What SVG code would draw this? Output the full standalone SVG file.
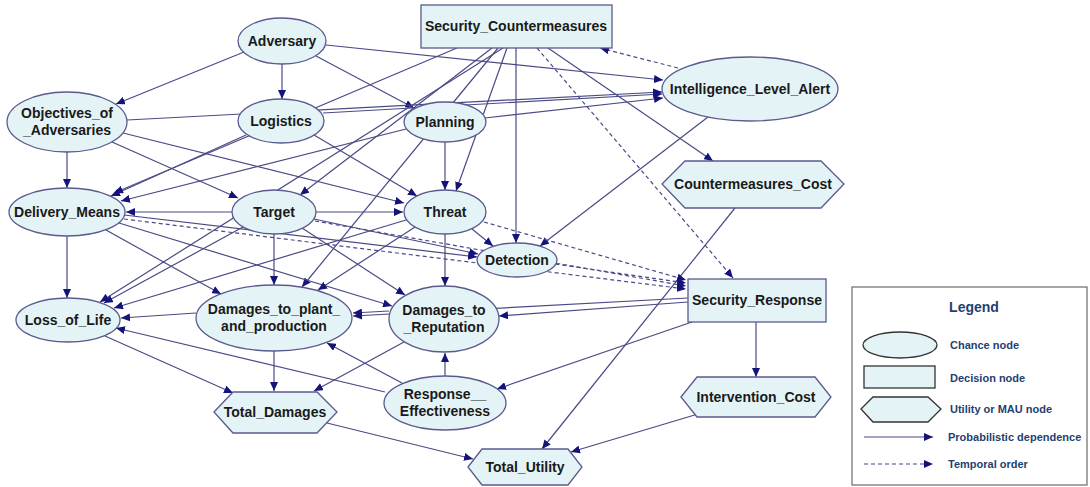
<svg xmlns="http://www.w3.org/2000/svg" width="1090" height="487" viewBox="0 0 1090 487">
<defs>
<marker id="ah" markerWidth="9" markerHeight="8" refX="9" refY="4" orient="auto" markerUnits="userSpaceOnUse"><path d="M0,0 L9,4 L0,8 Z" fill="#13137a"/></marker>
<style>
.e{stroke:#4a4a86;stroke-width:1.2;fill:none;marker-end:url(#ah)}
.d{stroke:#4a4a86;stroke-width:1.2;fill:none;stroke-dasharray:4,3;marker-end:url(#ah)}
.n{fill:#e4f4f6;stroke:#5a5a8e;stroke-width:1.3}
.t{font-family:"Liberation Sans",Arial,sans-serif;font-weight:bold;font-size:14px;fill:#1a1a1a;text-anchor:middle;dominant-baseline:central}
.l{font-family:"Liberation Sans",Arial,sans-serif;font-weight:bold;font-size:11px;fill:#1f3f72;dominant-baseline:central}
.lt{font-family:"Liberation Sans",Arial,sans-serif;font-weight:bold;font-size:14px;fill:#1f3f72;text-anchor:middle;dominant-baseline:central}
</style>
</defs>
<rect width="1090" height="487" fill="#fff"/>
<g id="connectors">
<line class="e" x1="244" y1="52" x2="116" y2="104"/>
<line class="e" x1="282" y1="64" x2="282" y2="99"/>
<line class="e" x1="316" y1="56" x2="414" y2="108"/>
<line class="e" x1="326" y1="45" x2="663" y2="80"/>
<line class="e" x1="127" y1="120" x2="662" y2="92"/>
<line class="e" x1="323" y1="113" x2="662" y2="94"/>
<line class="e" x1="485" y1="118" x2="663" y2="98"/>
<line class="e" x1="67" y1="152" x2="67" y2="188"/>
<line class="e" x1="112" y1="142" x2="238" y2="198"/>
<line class="e" x1="123" y1="133" x2="404" y2="203"/>
<line class="e" x1="246" y1="135" x2="111" y2="196"/>
<line class="e" x1="457" y1="48" x2="114" y2="193"/>
<line class="e" x1="406" y1="129" x2="121" y2="201"/>
<line class="e" x1="314" y1="135" x2="417" y2="196"/>
<line class="e" x1="445" y1="142" x2="445" y2="190"/>
<line class="e" x1="507" y1="48" x2="456" y2="191"/>
<line class="e" x1="492" y1="48" x2="300" y2="195"/>
<line class="e" x1="516" y1="48" x2="516" y2="243"/>
<line class="e" x1="548" y1="48" x2="713" y2="161"/>
<line class="e" x1="498" y1="48" x2="302" y2="287"/>
<line class="e" x1="503" y1="48" x2="100" y2="302"/>
<line class="e" x1="232" y1="212" x2="126" y2="212"/>
<line class="e" x1="316" y1="212" x2="403" y2="212"/>
<line class="e" x1="274" y1="234" x2="274" y2="285"/>
<line class="e" x1="314" y1="219" x2="478" y2="254"/>
<line class="e" x1="302" y1="228" x2="405" y2="295"/>
<line class="e" x1="243" y1="227" x2="104" y2="303"/>
<line class="e" x1="67" y1="236" x2="67" y2="298"/>
<line class="e" x1="106" y1="230" x2="221" y2="294"/>
<line class="e" x1="119" y1="223" x2="392" y2="306"/>
<line class="e" x1="124" y1="215" x2="477" y2="257"/>
<line class="e" x1="472" y1="229" x2="493" y2="246"/>
<line class="e" x1="445" y1="234" x2="445" y2="286"/>
<line class="e" x1="415" y1="227" x2="318" y2="290"/>
<line class="e" x1="406" y1="220" x2="114" y2="308"/>
<line class="e" x1="708" y1="117" x2="540" y2="246"/>
<line class="e" x1="735" y1="208" x2="542" y2="449"/>
<line class="e" x1="698" y1="414" x2="571" y2="452"/>
<line class="e" x1="327" y1="423" x2="473" y2="459"/>
<line class="e" x1="756" y1="322" x2="756" y2="377"/>
<line class="e" x1="692" y1="322" x2="497" y2="389"/>
<line class="e" x1="688" y1="302" x2="499" y2="316"/>
<line class="e" x1="688" y1="298" x2="353" y2="316"/>
<line class="e" x1="389" y1="311" x2="353" y2="313"/>
<line class="e" x1="196" y1="313" x2="121" y2="318"/>
<line class="e" x1="274" y1="351" x2="274" y2="391"/>
<line class="e" x1="105" y1="336" x2="233" y2="393"/>
<line class="e" x1="404" y1="342" x2="314" y2="391"/>
<line class="e" x1="445" y1="376" x2="445" y2="353"/>
<line class="e" x1="402" y1="383" x2="327" y2="343"/>
<line class="e" x1="385" y1="392" x2="116" y2="328"/>
<line class="d" x1="678" y1="68" x2="600" y2="48"/>
<line class="d" x1="537" y1="48" x2="733" y2="278"/>
<line class="d" x1="484" y1="222" x2="686" y2="280"/>
<line class="d" x1="555" y1="264" x2="686" y2="283"/>
<line class="d" x1="315" y1="221" x2="686" y2="286"/>
<line class="d" x1="124" y1="219" x2="686" y2="289"/>
</g>
<g id="Adversary"><ellipse class="n" cx="282" cy="41" rx="44" ry="23"/><text class="t" x="282" y="41">Adversary</text></g>
<g id="Objectives_of_Adversaries"><ellipse class="n" cx="67" cy="122" rx="60" ry="30"/><text class="t" x="67" y="113">Objectives_of</text><text class="t" x="67" y="130">_Adversaries</text></g>
<g id="Logistics"><ellipse class="n" cx="281" cy="121" rx="43" ry="22"/><text class="t" x="281" y="121">Logistics</text></g>
<g id="Planning"><ellipse class="n" cx="445" cy="122" rx="41" ry="20"/><text class="t" x="445" y="122">Planning</text></g>
<g id="Security_Countermeasures"><rect class="n" x="421" y="5" width="191" height="43"/><text class="t" x="516" y="26">Security_Countermeasures</text></g>
<g id="Intelligence_Level_Alert"><ellipse class="n" cx="750" cy="89" rx="88" ry="32"/><text class="t" x="750" y="89">Intelligence_Level_Alert</text></g>
<g id="Delivery_Means"><ellipse class="n" cx="67" cy="212" rx="58" ry="24"/><text class="t" x="67" y="212">Delivery_Means</text></g>
<g id="Target"><ellipse class="n" cx="274" cy="212" rx="42" ry="22"/><text class="t" x="274" y="212">Target</text></g>
<g id="Threat"><ellipse class="n" cx="445" cy="212" rx="41" ry="22"/><text class="t" x="445" y="212">Threat</text></g>
<g id="Countermeasures_Cost"><polygon class="n" points="662,184 685,161 821,161 844,184 821,208 685,208"/><text class="t" x="753" y="184">Countermeasures_Cost</text></g>
<g id="Detection"><ellipse class="n" cx="517" cy="260" rx="40" ry="17"/><text class="t" x="517" y="260">Detection</text></g>
<g id="Security_Response"><rect class="n" x="688" y="279" width="138" height="43"/><text class="t" x="757" y="300">Security_Response</text></g>
<g id="Loss_of_Life"><ellipse class="n" cx="68" cy="320" rx="52" ry="22"/><text class="t" x="68" y="320">Loss_of_Life</text></g>
<g id="Damages_to_plant_and_production"><ellipse class="n" cx="274" cy="318" rx="78" ry="33"/><text class="t" x="274" y="309">Damages_to_plant_</text><text class="t" x="274" y="326">and_production</text></g>
<g id="Damages_to_Reputation"><ellipse class="n" cx="444" cy="319" rx="55" ry="33"/><text class="t" x="444" y="310">Damages_to</text><text class="t" x="444" y="327">_Reputation</text></g>
<g id="Response_Effectiveness"><ellipse class="n" cx="445" cy="403" rx="61" ry="27"/><text class="t" x="445" y="394">Response__</text><text class="t" x="445" y="411">Effectiveness</text></g>
<g id="Total_Damages"><polygon class="n" points="214,412 233,392 317,392 337,412 317,433 233,433"/><text class="t" x="275" y="412">Total_Damages</text></g>
<g id="Intervention_Cost"><polygon class="n" points="681,397 697,377 815,377 831,397 815,417 697,417"/><text class="t" x="756" y="397">Intervention_Cost</text></g>
<g id="Total_Utility"><polygon class="n" points="468,467 482,449 568,449 582,467 568,485 482,485"/><text class="t" x="525" y="467">Total_Utility</text></g>
<g id="legend">
<rect x="852" y="287" width="235" height="198" fill="#fff" stroke="#6a6a6a" stroke-width="1.2"/>
<text class="lt" x="974" y="307">Legend</text>
<ellipse cx="900" cy="345" rx="37" ry="13" fill="#e4f4f6" stroke="#333" stroke-width="1.3"/>
<text class="l" x="950" y="345">Chance node</text>
<rect x="864" y="366" width="71" height="22" fill="#e4f4f6" stroke="#333" stroke-width="1.3"/>
<text class="l" x="950" y="378">Decision node</text>
<polygon points="861,409 873,397 928,397 941,409 928,422 873,422" fill="#e4f4f6" stroke="#333" stroke-width="1.3"/>
<text class="l" x="950" y="409">Utility or MAU node</text>
<line class="e" x1="864" y1="437" x2="933" y2="437"/>
<text class="l" x="948" y="437">Probabilistic dependence</text>
<line class="d" x1="864" y1="464" x2="933" y2="464"/>
<text class="l" x="948" y="464">Temporal order</text>
</g>
</svg>
